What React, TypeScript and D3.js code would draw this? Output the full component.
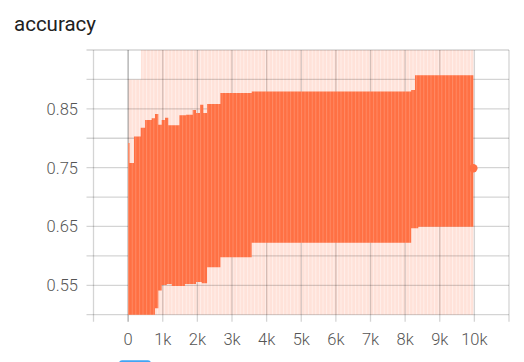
import React from "react";
import * as d3 from "d3";

const title = "accuracy";

// smoothed series envelope (step -> high / low value reached by the oscillating line)
const smoothSteps = [0, 40, 170, 364, 490, 680, 777, 872, 970, 1066, 1115, 1160, 1260, 1480, 1640, 1672, 1865, 1960, 2076, 2125, 2172, 2280, 2665, 3569, 8175, 8285, 8380, 9970];
const smoothHigh = [0.792, 0.758, 0.803, 0.818, 0.831, 0.834, 0.841, 0.823, 0.831, 0.835, 0.835, 0.822, 0.822, 0.839, 0.839, 0.84, 0.848, 0.843, 0.857, 0.857, 0.843, 0.858, 0.877, 0.8795, 0.882, 0.907, 0.907, 0.907];
const smoothLow = [0.49, 0.49, 0.49, 0.49, 0.49, 0.49, 0.511, 0.541, 0.5505, 0.5505, 0.552, 0.552, 0.549, 0.549, 0.552, 0.552, 0.552, 0.5556, 0.5556, 0.5534, 0.5534, 0.5807, 0.5977, 0.6225, 0.647, 0.647, 0.6497, 0.6497];

// raw series envelope
const rawSteps = [0, 370, 9970];
const rawHigh = [0.9, 0.99, 0.99];
const rawLow = [0.45, 0.45, 0.45];

const lastStep = 9970;
const lastValue = 0.749;

const yGrid = [0.5, 0.55, 0.6, 0.65, 0.7, 0.75, 0.8, 0.85, 0.9, 0.95];
const yLabels = [0.55, 0.65, 0.75, 0.85];
const xGrid = [-1000, 0, 1000, 2000, 3000, 4000, 5000, 6000, 7000, 8000, 9000, 10000, 11000];
const xLabels = [0, 1000, 2000, 3000, 4000, 5000, 6000, 7000, 8000, 9000, 10000];

const W = 524;
const H = 362;
const left = 93.5;
const right = 509;
const top = 50;
const bottom = 314.7;

export default function App() {
  const x = d3.scaleLinear().domain([-1000, 11000]).range([left, right]);
  const y = d3.scaleLinear().domain([0.5, 0.95]).range([bottom, top]);

  const smoothData = smoothSteps.map((s, i) => ({ s, hi: smoothHigh[i], lo: smoothLow[i] }));
  const rawData = rawSteps.map((s, i) => ({ s, hi: rawHigh[i], lo: rawLow[i] }));

  const area = d3
    .area<{ s: number; hi: number; lo: number }>()
    .x((d) => x(d.s))
    .y0((d) => y(d.lo))
    .y1((d) => y(d.hi))
    .curve(d3.curveStepAfter);

  const color = "#ff7043";
  const fmt = (v: number) => (v === 0 ? "0" : `${v / 1000}k`);
  const rawPath = area(rawData) || "";
  const smoothPath = area(smoothData) || "";

  return (
    <svg
      width={W}
      height={H}
      style={{ position: "absolute", left: 0, top: 0, background: "#fff" }}
      fontFamily="Roboto, 'Noto Sans', sans-serif"
    >
      <defs>
        <clipPath id="plot">
          <rect x={left} y={top} width={right - left} height={bottom - top} />
        </clipPath>
        <pattern id="stripes" patternUnits="userSpaceOnUse" x={x(0)} y={0} width={3.6} height={10}>
          <rect x={0} y={0} width={1} height={10} fill="#fff" />
        </pattern>
      </defs>
      <text x={14} y={31} fontSize={20.5} fill="#212121">
        {title}
      </text>

      <g clipPath="url(#plot)">
        <path d={rawPath} fill={color} fillOpacity={0.2} />
        <path d={rawPath} fill="url(#stripes)" fillOpacity={0.45} />
      </g>

      {yGrid.map((v) => (
        <line key={"h" + v} x1={left - 7} x2={right} y1={y(v)} y2={y(v)} stroke="rgba(0,0,0,0.17)" strokeWidth={1.3} />
      ))}
      {xGrid.map((v) => (
        <line
          key={"v" + v}
          x1={x(v)}
          x2={x(v)}
          y1={top}
          y2={bottom + 7}
          stroke={v === 0 ? "rgba(0,0,0,0.33)" : "rgba(0,0,0,0.17)"}
          strokeWidth={1.3}
        />
      ))}

      <g clipPath="url(#plot)">
        <path d={smoothPath} fill={color} />
        <path d={smoothPath} fill="url(#stripes)" fillOpacity={0.18} />
      </g>
      <circle cx={x(lastStep)} cy={y(lastValue)} r={4.2} fill={color} />

      {yLabels.map((v) => (
        <text key={"yl" + v} x={78} y={y(v)} dy="0.36em" textAnchor="end" fontSize={16.5} fontWeight={300} fill="#555">
          {v.toFixed(2)}
        </text>
      ))}
      {xLabels.map((v) => (
        <text key={"xl" + v} x={x(v)} y={345} textAnchor="middle" fontSize={16.5} fontWeight={300} fill="#555">
          {fmt(v)}
        </text>
      ))}

      <rect x={119} y={360.3} width={32} height={10} rx={3} fill="#42a5f5" />
    </svg>
  );
}
